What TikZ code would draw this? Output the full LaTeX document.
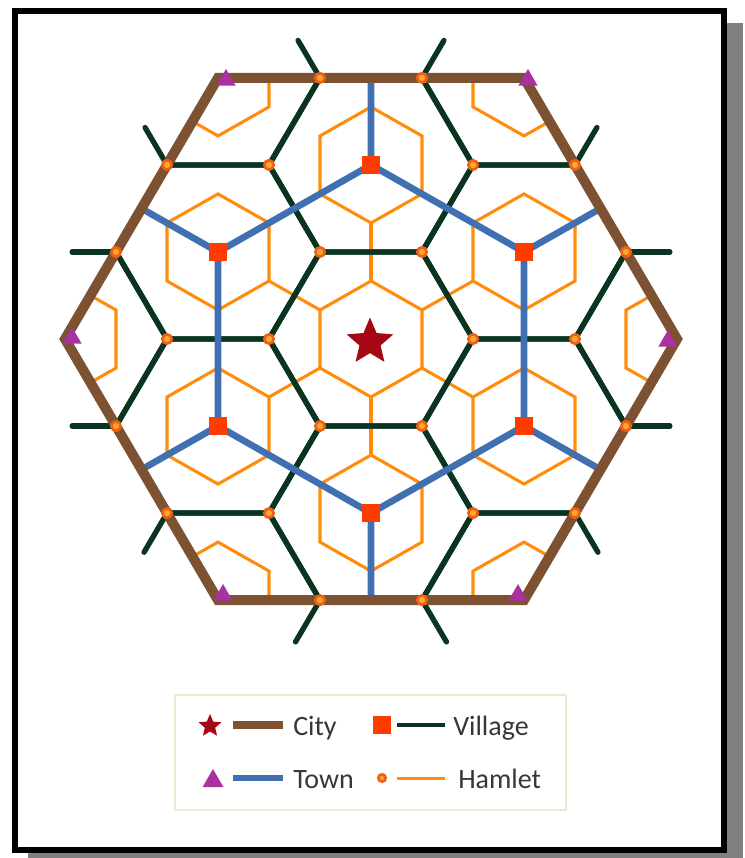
\documentclass[tikz,border=0pt]{standalone}
\usepackage{fontspec}
\setmainfont{Carlito}
\usetikzlibrary{shapes.geometric}
\definecolor{citybrown}{RGB}{124,82,50}
\definecolor{villgreen}{RGB}{8,52,32}
\definecolor{townblue}{RGB}{64,112,178}
\definecolor{hamorange}{RGB}{255,140,10}
\definecolor{sqred}{RGB}{255,60,0}
\definecolor{starred}{RGB}{165,8,20}
\definecolor{tripurple}{RGB}{170,50,160}
\definecolor{dotrim}{RGB}{240,95,20}
\definecolor{dotcore}{RGB}{255,170,50}
\definecolor{legframe}{RGB}{226,238,210}
\definecolor{shadowgray}{RGB}{128,128,128}
\definecolor{legtext}{RGB}{55,55,55}
\begin{document}
\begin{tikzpicture}[x=0.75pt,y=-0.75pt,
  brownline/.style={draw=citybrown,line width=7.5pt,line join=miter},
  greenline/.style={draw=villgreen,line width=4pt},
  stubline/.style={draw=villgreen,line width=4pt,line cap=round},
  blueline/.style={draw=townblue,line width=5pt,line join=round},
  orangeline/.style={draw=hamorange,line width=2.3pt,line join=miter},
  hamdot/.style={circle,fill=dotcore,draw=dotrim,line width=2pt,inner sep=0pt,minimum size=7pt},
  villsq/.style={rectangle,fill=sqred,inner sep=0pt,minimum size=13pt},
  towntri/.style={regular polygon,regular polygon sides=3,fill=tripurple,inner sep=0pt,minimum size=16.5pt},
  citystar/.style={star,star points=5,star point ratio=2.2,fill=starred,inner sep=0pt},
  legtxt/.style={anchor=base west,text=legtext,font=\fontsize{21}{25}\selectfont,inner sep=0pt}
]
\useasboundingbox (0,0) rectangle (745,858);
% frame with shadow
\fill[shadowgray] (28,23) rectangle (743,858);
\filldraw[fill=white,draw=black,line width=4.5pt] (15,11) rectangle (724,850);

\begin{scope}[shift={(371,339)},x=76.5pt,y=75.375pt]
  \coordinate (O) at (0,0);
  \coordinate (v1) at (0,1.732);
  \coordinate (v2) at (-1.5,0.866);
  \coordinate (v3) at (-1.5,-0.866);
  \coordinate (v4) at (0,-1.732);
  \coordinate (v5) at (1.5,-0.866);
  \coordinate (v6) at (1.5,0.866);
  \coordinate (c1) at (-1.5,2.598);
  \coordinate (c2) at (-3,0);
  \coordinate (c3) at (-1.5,-2.598);
  \coordinate (c4) at (1.5,-2.598);
  \coordinate (c5) at (3,0);
  \coordinate (c6) at (1.5,2.598);
  \coordinate (m1) at (0,2.598);
  \coordinate (m2) at (-2.25,1.299);
  \coordinate (m3) at (-2.25,-1.299);
  \coordinate (m4) at (0,-2.598);
  \coordinate (m5) at (2.25,-1.299);
  \coordinate (m6) at (2.25,1.299);
  \begin{scope}
    \clip (c1) -- (c2) -- (c3) -- (c4) -- (c5) -- (c6) -- cycle;
    % hamlet hexagons
    \foreach \cx/\cy in {0/0,0/1.732,0/-1.732,1.5/0.866,1.5/-0.866,-1.5/0.866,-1.5/-0.866,3/0,-3/0,1.5/2.598,-1.5/2.598,1.5/-2.598,-1.5/-2.598}
      \draw[orangeline] (\cx,\cy) +(30:0.5774) -- +(90:0.5774) -- +(150:0.5774) -- +(210:0.5774) -- +(270:0.5774) -- +(330:0.5774) -- cycle;
    \foreach \a in {30,90,...,330}
      \draw[orangeline] (\a:0.5774) -- (\a:1.1547);
    % village hexagons
    \foreach \cx/\cy in {0/0,0/1.732,0/-1.732,1.5/0.866,1.5/-0.866,-1.5/0.866,-1.5/-0.866,3/0,-3/0,1.5/2.598,-1.5/2.598,1.5/-2.598,-1.5/-2.598}
      \draw[greenline] (\cx,\cy) +(0:1) -- +(60:1) -- +(120:1) -- +(180:1) -- +(240:1) -- +(300:1) -- cycle;
  \end{scope}
  % village stubs outside the city hexagon
  \foreach \sx/\sy/\sa/\sl in {-0.5/2.598/120/0.43,0.5/2.598/60/0.43,2/1.732/60/0.43,2.5/0.866/0/0.43,2.5/-0.866/0/0.43,2/-1.732/300/0.45,0.5/-2.598/300/0.48,-0.5/-2.598/240/0.48,-2/-1.732/240/0.45,-2.5/-0.866/180/0.43,-2.5/0.866/180/0.43,-2/1.732/120/0.43}
    \draw[stubline] (\sx,\sy) -- ++(\sa:\sl);
  % town network
  \draw[blueline] (v1) -- (v2) -- (v3) -- (v4) -- (v5) -- (v6) -- cycle;
  \draw[blueline] (v1) -- (m1) (v2) -- (m2) (v3) -- (m3) (v4) -- (m4) (v5) -- (m5) (v6) -- (m6);
  % city hexagon
  \draw[brownline] (c1) -- (c2) -- (c3) -- (c4) -- (c5) -- (c6) -- cycle;
  % hamlet dots
  \foreach \dx/\dy [count=\k] in {-0.5/2.598,0.5/2.598,-2/1.732,-1/1.732,1/1.732,2/1.732,-2.5/0.866,-0.5/0.866,0.5/0.866,2.5/0.866,-2/0,-1/0,1/0,2/0,-2.5/-0.866,-0.5/-0.866,0.5/-0.866,2.5/-0.866,-2/-1.732,-1/-1.732,1/-1.732,2/-1.732,-0.5/-2.598,0.5/-2.598}
    \node[hamdot] (h\k) at (\dx,\dy) {};
  % village squares
  \foreach \i in {1,...,6}
    \node[villsq] (sq\i) at (v\i) {};
\end{scope}
% town triangles
\node[towntri] (t1) at (226,80) {};
\node[towntri] (t2) at (528,80) {};
\node[towntri] (t3) at (72,338) {};
\node[towntri] (t4) at (668,341) {};
\node[towntri] (t5) at (223,595) {};
\node[towntri] (t6) at (518,595) {};
% city star
\node[citystar,minimum size=36.75pt] (city) at (370,342) {};

% legend
\draw[draw=legframe,line width=1.2pt] (175,695) rectangle (566,810);
\node[citystar,minimum size=18pt] (lstar) at (210,726) {};
\coordinate (lb1) at (233,725); \coordinate (lb2) at (283,725);
\draw[draw=citybrown,line width=6pt] (lb1) -- (lb2);
\node[legtxt] (lcity) at (293,735) {City};
\node[villsq] (lsq) at (382,725) {};
\coordinate (lg1) at (397,725); \coordinate (lg2) at (445,725);
\draw[draw=villgreen,line width=3pt] (lg1) -- (lg2);
\node[legtxt] (lvill) at (453,735) {Village};
\node[regular polygon,regular polygon sides=3,fill=tripurple,inner sep=0pt,minimum size=18pt] (ltri) at (213,781) {};
\coordinate (lt1) at (233,778); \coordinate (lt2) at (283,778);
\draw[draw=townblue,line width=4.5pt] (lt1) -- (lt2);
\node[legtxt] (ltown) at (293,788) {Town};
\node[hamdot,minimum size=5.5pt] (ldot) at (382,778) {};
\coordinate (lh1) at (397,778); \coordinate (lh2) at (445,778);
\draw[draw=hamorange,line width=2.25pt] (lh1) -- (lh2);
\node[legtxt] (lham) at (458,788) {Hamlet};
\end{tikzpicture}
\end{document}
